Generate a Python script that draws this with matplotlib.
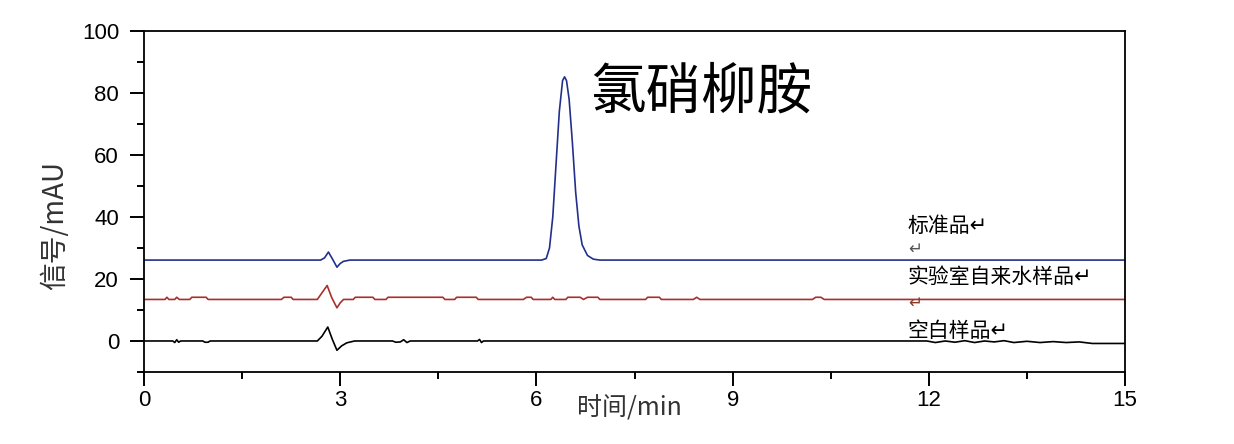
import matplotlib
matplotlib.use('Agg')
import matplotlib.pyplot as plt
from matplotlib.ticker import MultipleLocator

plt.rcParams['font.family'] = ['Liberation Sans', 'Noto Sans CJK SC', 'DejaVu Sans']

# standard sample (blue)
blue_t = [0, 2.70, 2.76, 2.82, 2.88, 2.95, 3.00, 3.05, 3.15, 6.08, 6.15, 6.20, 6.25, 6.30,
          6.35, 6.40, 6.43, 6.46, 6.50, 6.55, 6.60, 6.65, 6.70, 6.78, 6.87, 6.97, 15]
blue_y = [26.1, 26.1, 26.8, 28.7, 26.5, 23.8, 25.0, 25.7, 26.1, 26.1, 26.6, 30, 40, 57,
          74, 84, 85.2, 84, 78, 64, 48, 37, 31, 27.6, 26.4, 26.1, 26.1]

# tap water sample (red)
red_t = [0, 0.32, 0.35, 0.38, 0.47, 0.50, 0.54, 0.70, 0.73, 0.95, 0.98, 2.10, 2.14, 2.25,
         2.28, 2.65, 2.72, 2.80, 2.87, 2.95, 3.00, 3.05, 3.20, 3.23, 3.50, 3.53, 3.70, 3.73,
         4.57, 4.60, 4.75, 4.78, 5.08, 5.11, 5.80, 5.85, 5.92, 5.95, 6.22, 6.25, 6.28, 6.45,
         6.48, 6.67, 6.72, 6.78, 6.94, 6.97, 7.67, 7.70, 7.88, 7.91, 8.40, 8.45, 8.50, 10.22,
         10.27, 10.35, 10.40, 15]
red_y = [13.4, 13.4, 14.1, 13.4, 13.4, 14.1, 13.4, 13.4, 14.1, 14.1, 13.4, 13.4, 14.1, 14.1,
         13.4, 13.4, 15.5, 17.9, 14.0, 10.7, 12.3, 13.4, 13.4, 14.1, 14.1, 13.4, 13.4, 14.1,
         14.1, 13.4, 13.4, 14.1, 14.1, 13.4, 13.4, 14.1, 14.1, 13.4, 13.4, 14.1, 13.4, 13.4,
         14.1, 14.1, 13.4, 14.1, 14.1, 13.4, 13.4, 14.1, 14.1, 13.4, 13.4, 14.1, 13.4, 13.4,
         14.1, 14.1, 13.4, 13.4]

# blank sample (black)
black_t = [0, 0.44, 0.47, 0.50, 0.53, 0.56, 0.90, 0.93, 0.98, 1.01, 2.65, 2.72, 2.81, 2.88,
           2.95, 3.02, 3.10, 3.22, 3.80, 3.85, 3.92, 3.97, 4.02, 4.07, 5.10, 5.13, 5.16, 5.19,
           11.97, 12.1, 12.25, 12.4, 12.55, 12.7, 12.85, 13.0, 13.15, 13.3, 13.5, 13.7, 13.9,
           14.1, 14.3, 14.5, 15]
black_y = [0, 0, -0.5, 0.4, -0.4, 0, 0, -0.4, -0.4, 0, 0, 1.5, 4.5, 0.5,
           -3.0, -1.6, -0.6, 0, 0, -0.4, -0.3, 0.4, -0.5, 0, 0, 0.5, -0.5, 0,
           0, -0.5, 0, -0.4, 0.1, -0.5, 0, -0.3, 0.1, -0.5, -0.1, -0.5, -0.2,
           -0.5, -0.3, -0.8, -0.8]

fig = plt.figure(figsize=(12.34, 4.44), dpi=100, facecolor='white')
ax = fig.add_axes([0.1167, 0.1622, 0.795, 0.768])

ax.plot(blue_t, blue_y, color='#22308c', linewidth=1.2)
ax.plot(red_t, red_y, color='#a8302c', linewidth=1.2)
ax.plot(black_t, black_y, color='black', linewidth=1.2)

ax.set_xlim(0, 15)
ax.set_ylim(-10, 100)
ax.xaxis.set_major_locator(MultipleLocator(3))
ax.xaxis.set_minor_locator(MultipleLocator(1.5))
ax.yaxis.set_major_locator(MultipleLocator(20))
ax.yaxis.set_minor_locator(MultipleLocator(10))
ax.tick_params(which='major', direction='out', length=10, width=1.4, labelsize=16)
ax.tick_params(which='minor', direction='out', length=5, width=1.4)
ax.tick_params(axis='y', pad=8)
ax.tick_params(axis='x', pad=3)
for s in ax.spines.values():
    s.set_linewidth(1.3)

cjk = ['Noto Sans CJK SC', 'DejaVu Sans']
ax.set_ylabel('信号/mAU', fontsize=20, family=cjk, color='#333333')
ax.yaxis.set_label_coords(-0.075, 0.43)
ax.set_xlabel('时间/min', fontsize=18, family=cjk, color='#333333')
ax.xaxis.set_label_coords(0.495, -0.07)

ax.text(6.82, 80, '氯硝柳胺', fontsize=40, family=cjk, va='center', ha='left')
ax.text(11.68, 37.0, '标准品↵', fontsize=15, family=cjk, va='center', ha='left')
ax.text(11.68, 29.5, '↵', fontsize=12, family=cjk, va='center', ha='left', color='#555555')
ax.text(11.68, 20.5, '实验室自来水样品↵', fontsize=15, family=cjk, va='center', ha='left')
ax.text(11.68, 12.3, '↵', fontsize=12, family=cjk, va='center', ha='left', color='#8a3a2a')
ax.text(11.68, 3.3, '空白样品↵', fontsize=15, family=cjk, va='center', ha='left')

fig.savefig('out.png', dpi=100)
